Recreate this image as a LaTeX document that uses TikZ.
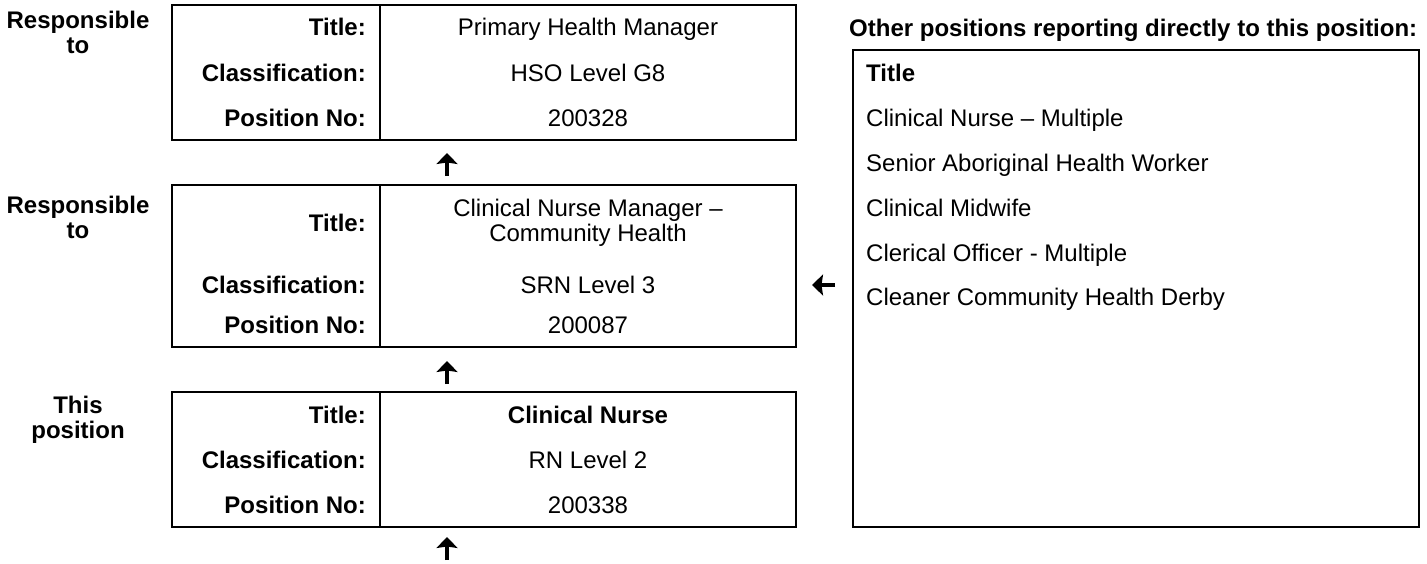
\documentclass[tikz,border=0pt]{standalone}
\usepackage{fontspec}
\setmainfont{Liberation Sans}
\usetikzlibrary{arrows.meta}
\newcommand{\txtsize}{\fontsize{24}{25}\selectfont}
\tikzset{%
  box/.style={line width=2.3pt},
  lbl/.style={font=\txtsize\bfseries, align=center, inner sep=0pt, anchor=north},
  fld/.style={font=\txtsize\bfseries, anchor=base east, inner sep=0pt},
  val/.style={font=\txtsize, anchor=base, inner sep=0pt},
  item/.style={font=\txtsize, anchor=base west, inner sep=0pt},
  upar/.style={line width=4.6pt, -{Stealth[length=11pt, width=21pt, inset=1.5pt]}},
}

\begin{document}
\begin{tikzpicture}[x=1pt, y=-1pt]
    \useasboundingbox (0,0) rectangle (1427,563);

    % position boxes
    \draw[box] (172,5) rectangle (796,140);
    \draw[box] (380,5) -- (380,140);
    \draw[box] (172,185) rectangle (796,347);
    \draw[box] (380,185) -- (380,347);
    \draw[box] (172,392) rectangle (796,527);
    \draw[box] (380,392) -- (380,527);

    % other positions box
    \draw[box] (853,50) rectangle (1419,527);

    % left labels
    \node[lbl] (resp1) at (78,11) {Responsible\\to};
    \node[lbl] (resp2) at (78,196) {Responsible\\to};
    \node[lbl] (this) at (78,396) {This\\position};

    % top box
    \node[fld] (title1) at (366,35.5) {Title:};
    \node[fld] (class1) at (366,81) {Classification:};
    \node[fld] (posno1) at (366,126) {Position No:};
    \node[val] (tval1) at (588,35.5) {Primary Health Manager};
    \node[val] (cval1) at (588,81) {HSO Level G8};
    \node[val] (pval1) at (588,126) {200328};

    % middle box
    \node[fld] (title2) at (366,231.5) {Title:};
    \node[fld] (class2) at (366,293.5) {Classification:};
    \node[fld] (posno2) at (366,333.5) {Position No:};
    \node[val, anchor=center, align=center] (tval2) at (588,223) {Clinical Nurse Manager --\\Community Health};
    \node[val] (cval2) at (588,293.5) {SRN Level 3};
    \node[val] (pval2) at (588,333.5) {200087};

    % bottom box
    \node[fld] (title3) at (366,423.5) {Title:};
    \node[fld] (class3) at (366,468.5) {Classification:};
    \node[fld] (posno3) at (366,513.5) {Position No:};
    \node[val, font=\txtsize\bfseries] (tval3) at (588,423.5) {Clinical Nurse};
    \node[val] (cval3) at (588,468.5) {RN Level 2};
    \node[val] (pval3) at (588,513.5) {200338};

    % other positions
    \node[item, font=\txtsize\bfseries] (othhead) at (849,36.5) {Other positions reporting directly to this position:};
    \node[item, font=\txtsize\bfseries] (othtitle) at (866,81.5) {Title};
    \node[item] (oth1) at (866,126.5) {Clinical Nurse -- Multiple};
    \node[item] (oth2) at (866,171.5) {Senior Aboriginal Health Worker};
    \node[item] (oth3) at (866,216.5) {Clinical Midwife};
    \node[item] (oth4) at (866,261.5) {Clerical Officer - Multiple};
    \node[item] (oth5) at (866,305.5) {Cleaner Community Health Derby};

    % arrows
    \coordinate (a1s) at (447,176);
    \coordinate (a1e) at (447,153);
    \coordinate (a2s) at (447,384);
    \coordinate (a2e) at (447,361);
    \coordinate (a3s) at (447,560);
    \coordinate (a3e) at (447,537);
    \coordinate (a4s) at (835,285);
    \coordinate (a4e) at (812,285);
    \draw[upar] (a1s) -- (a1e);
    \draw[upar] (a2s) -- (a2e);
    \draw[upar] (a3s) -- (a3e);
    \draw[upar] (a4s) -- (a4e);
\end{tikzpicture}
\end{document}
